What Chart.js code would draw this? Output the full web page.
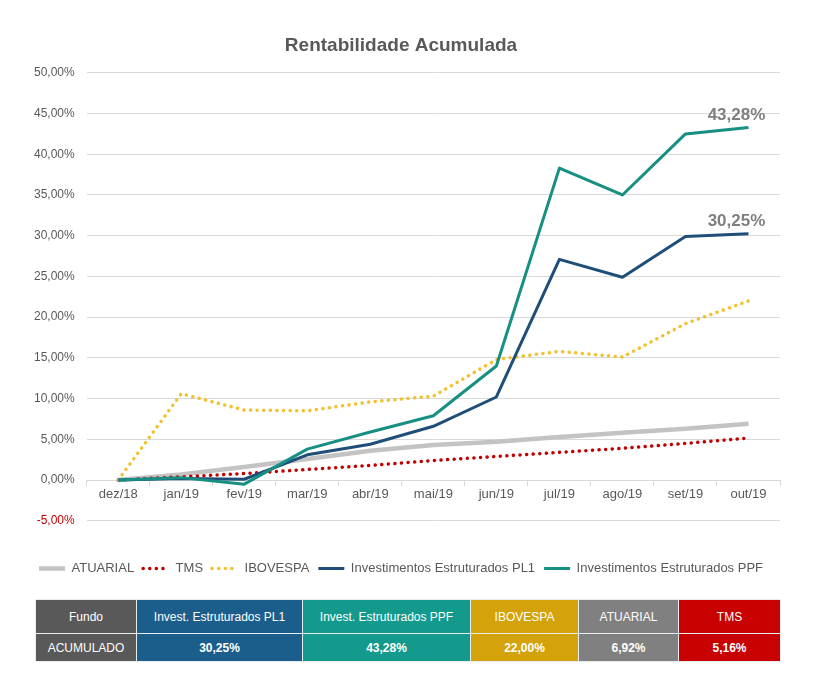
<!DOCTYPE html>
<html>
<head>
<meta charset="utf-8">
<script src="https://cdn.jsdelivr.net/npm/chart.js@4"></script>
<style>
  body { margin: 0; background: #fff; font-family: "Liberation Sans", Arial, sans-serif; }
  #wrap { position: relative; width: 825px; height: 590px; }
  table { position: absolute; left: 35px; top: 599px; border-collapse: collapse; }
  td { color: #fff; text-align: center; font-size: 12px; border: 1px solid #e8eef0; padding: 0; }
  tr.head td { height: 33px; }
  tr.val td { height: 27px; font-weight: bold; }
  tr.val td:first-child { font-weight: normal; }
</style>
</head>
<body>
<div id="wrap"><canvas id="chart" width="825" height="590"></canvas></div>
<table>
  <tr class="head">
    <td style="width:100px;background:#595959">Fundo</td>
    <td style="width:165px;background:#1b5e8c">Invest. Estruturados PL1</td>
    <td style="width:167px;background:#139a8c">Invest. Estruturados PPF</td>
    <td style="width:107px;background:#d4a20a">IBOVESPA</td>
    <td style="width:99px;background:#808080">ATUARIAL</td>
    <td style="width:101px;background:#c80000">TMS</td>
  </tr>
  <tr class="val">
    <td style="background:#595959">ACUMULADO</td>
    <td style="background:#1b5e8c">30,25%</td>
    <td style="background:#139a8c">43,28%</td>
    <td style="background:#d4a20a">22,00%</td>
    <td style="background:#808080">6,92%</td>
    <td style="background:#c80000">5,16%</td>
  </tr>
</table>
<script>
// categorias e séries (em %)
var meses = ['dez/18', 'jan/19', 'fev/19', 'mar/19', 'abr/19', 'mai/19', 'jun/19', 'jul/19', 'ago/19', 'set/19', 'out/19'];
var atuarial = [0, 0.7, 1.6, 2.6, 3.6, 4.3, 4.7, 5.3, 5.8, 6.3, 6.92];
var tms = [0, 0.4, 0.8, 1.3, 1.8, 2.4, 2.9, 3.4, 3.9, 4.5, 5.16];
var ibovespa = [0, 10.6, 8.6, 8.5, 9.6, 10.3, 14.8, 15.8, 15.1, 19.2, 22.0];
var pl1 = [0, 0.2, 0.1, 3.1, 4.4, 6.6, 10.2, 27.1, 24.9, 29.9, 30.25];
var ppf = [0, 0.3, -0.5, 3.8, 5.9, 7.9, 14.0, 38.3, 35.0, 42.5, 43.28];

function fmt(v) {
    return v.toFixed(2).replace('.', ',') + '%';
}

// rótulo no fim das linhas PL1 e PPF
var endLabels = {
    id: 'endLabels',
    afterDatasetsDraw: function (chart) {
        var ctx = chart.ctx;
        var x = chart.scales.x, y = chart.scales.y;
        ctx.save();
        ctx.font = 'bold 17px "Liberation Sans", Arial, sans-serif';
        ctx.fillStyle = '#7f7f7f';
        ctx.textAlign = 'center';
        ctx.textBaseline = 'bottom';
        [3, 4].forEach(function (i) {
            var ds = chart.data.datasets[i];
            var last = ds.data.length - 1;
            ctx.fillText(fmt(ds.data[last]), x.getPixelForValue(last) - 12, y.getPixelForValue(ds.data[last]) - 4);
        });
        ctx.restore();
    }
};

var ctx = document.getElementById('chart').getContext('2d');
var chart = new Chart(ctx, {
    type: 'line',
    data: {
        labels: meses,
        datasets: [
            { label: 'ATUARIAL', data: atuarial, borderColor: '#c3c3c3', borderWidth: 4.5, order: 5 },
            { label: 'TMS', data: tms, borderColor: '#c00000', borderWidth: 3.5, borderDash: [0.1, 6.5], borderCapStyle: 'round', order: 4 },
            { label: 'IBOVESPA', data: ibovespa, borderColor: '#f2c12e', borderWidth: 3.5, borderDash: [0.1, 6.5], borderCapStyle: 'round', order: 3 },
            { label: 'Investimentos Estruturados PL1', data: pl1, borderColor: '#1f4e79', borderWidth: 3, order: 2 },
            { label: 'Investimentos Estruturados PPF', data: ppf, borderColor: '#178f83', borderWidth: 3, order: 1 }
        ]
    },
    options: {
        responsive: false,
        animation: false,
        elements: { point: { radius: 0 }, line: { tension: 0, borderJoinStyle: 'round' } },
        layout: { padding: { left: 22, right: 45, top: 34, bottom: 5 } },
        scales: {
            x: {
                position: { y: 0 },
                offset: true,
                grid: { drawOnChartArea: false, offset: true, tickLength: 5, color: '#d9d9d9' },
                border: { color: '#d9d9d9' },
                ticks: { color: '#595959', font: { size: 13 }, padding: 2 }
            },
            y: {
                min: -5,
                max: 50,
                grid: { color: '#d9d9d9', drawTicks: false },
                border: { display: false },
                ticks: {
                    stepSize: 5,
                    padding: 12,
                    font: { size: 12 },
                    color: function (c) { return c.tick.value < 0 ? '#c00000' : '#595959'; },
                    callback: function (v) { return fmt(v); }
                }
            }
        },
        plugins: {
            title: {
                display: true,
                text: 'Rentabilidade Acumulada',
                color: '#595959',
                font: { size: 19, weight: 'bold' },
                padding: { top: 0, bottom: 16 }
            },
            legend: {
                position: 'bottom',
                title: { display: true, text: ' ', font: { size: 1 }, padding: { top: 31, bottom: 0 } },
                labels: {
                    color: '#595959',
                    font: { size: 13 },
                    usePointStyle: true,
                    pointStyleWidth: 26,
                    boxHeight: 6,
                    padding: 9,
                    generateLabels: function (chart) {
                        return chart.data.datasets.map(function (ds, i) {
                            return {
                                text: ds.label,
                                datasetIndex: i,
                                pointStyle: 'line',
                                strokeStyle: ds.borderColor,
                                fillStyle: ds.borderColor,
                                lineWidth: ds.borderWidth,
                                lineDash: ds.borderDash || [],
                                lineCap: ds.borderDash ? 'round' : 'butt',
                                fontColor: '#595959'
                            };
                        });
                    }
                }
            },
            tooltip: { enabled: false }
        }
    },
    plugins: [endLabels]
});
</script>
</body>
</html>
